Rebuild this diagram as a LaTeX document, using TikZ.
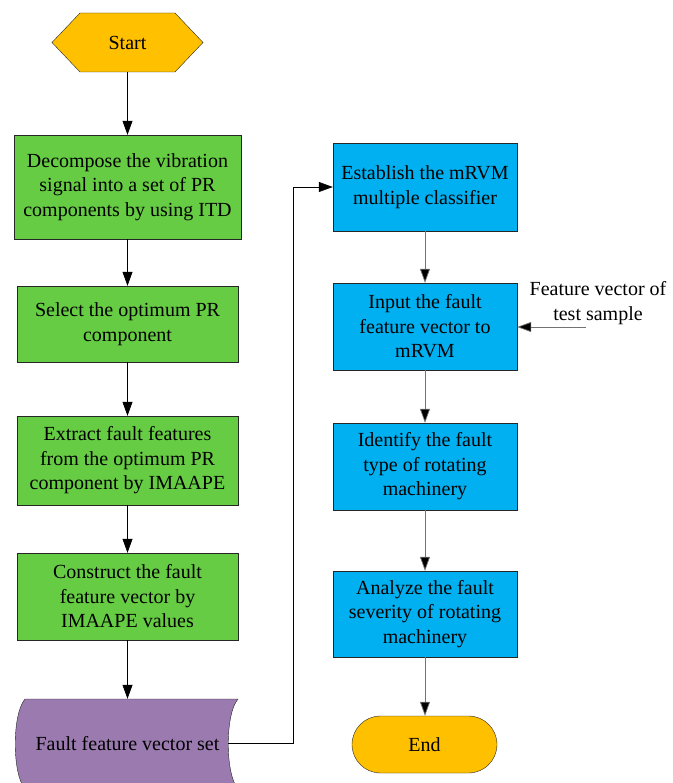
\documentclass[tikz,border=0pt]{standalone}
\usepackage{fontspec}
\setmainfont{Liberation Serif}
\usetikzlibrary{arrows.meta,positioning}
\definecolor{boxgreen}{RGB}{102,204,68}
\definecolor{boxblue}{RGB}{0,176,240}
\definecolor{boxorange}{RGB}{255,192,0}
\definecolor{boxpurple}{RGB}{155,122,176}
\tikzset{
  txt/.style={font=\fontsize{20}{24.5}\selectfont, align=center, text=black},
  gbox/.style={txt, draw=black!85, fill=boxgreen, minimum width=221pt, inner sep=0pt},
  bbox/.style={txt, draw=black!85, fill=boxblue, minimum width=184pt, inner sep=0pt},
  conn/.style={draw=black, line width=0.7pt, -{Triangle[length=14pt,width=10pt,fill=black]}},
  gconn/.style={conn, draw=black!55},
}
\begin{document}
\begin{tikzpicture}[x=1pt,y=-1pt]
\useasboundingbox (0,0) rectangle (672,783);
\clip (0,0) rectangle (672,783);
% start hexagon
\draw[draw=black!85, fill=boxorange] (52,42.5) -- (80,13) -- (175,13) -- (203,42.5) -- (175,72) -- (80,72) -- cycle;
\node[txt, minimum height=59pt, inner sep=0pt] (start) at (127.5,42.5) {Start};
% left column
\node[gbox, minimum width=227pt, minimum height=104pt] (b1) at (127.5,187) {Decompose the vibration\\signal into a set of PR\\components by using ITD};
\node[gbox, minimum height=76pt] (b2) at (127.5,324) {Select the optimum PR\\component};
\node[gbox, minimum height=89pt] (b3) at (127.5,460.5) {Extract fault features\\from the optimum PR\\component by IMAAPE};
\node[gbox, minimum height=87pt] (b4) at (127.5,596.5) {Construct the fault\\feature vector by\\IMAAPE values};
% purple stored data shape
\draw[draw=black!85, fill=boxpurple] (25,699) -- (238,699)
  .. controls (225,714) and (225,774) .. (238,789) -- (25,789)
  .. controls (12,774) and (12,714) .. (25,699) -- cycle;
\node[txt, minimum height=90pt, minimum width=213pt, inner sep=0pt] (fv) at (127.5,744) {Fault feature vector set};
\coordinate (fvout) at (228,743);
% right column
\node[bbox, minimum height=88pt] (r1) at (425,187) {Establish the mRVM\\multiple classifier};
\node[bbox, minimum height=87pt] (r2) at (425,326.5) {Input the fault\\feature vector to\\mRVM};
\node[bbox, minimum height=87pt] (r3) at (425,466.5) {Identify the fault\\type of rotating\\machinery};
\node[bbox, minimum height=86pt] (r4) at (425,614) {Analyze the fault\\severity of rotating\\machinery};
\node[txt, draw=black!85, fill=boxorange, minimum width=145pt, minimum height=57pt, rounded corners=28.5pt, inner sep=0pt] (end) at (424.5,744.5) {End};
% external input
\node[txt, inner sep=0pt] (ext) at (598,303) {Feature vector of\\test sample};
\coordinate (extin) at (586,327);
% connectors
\draw[conn] (start) -- (b1);
\draw[conn] (b1) -- (b2);
\draw[conn] (b2) -- (b3);
\draw[conn] (b3) -- (b4);
\draw[conn] (b4) -- (fv.north);
\draw[conn] (fvout) -| (293,187) -- (r1.west);
\draw[gconn] (r1) -- (r2);
\draw[gconn] (r2) -- (r3);
\draw[gconn] (r3) -- (r4);
\draw[gconn] (r4.south) -- (r4.south |- end.north);
\draw[gconn] (extin) -- (r2.east |- extin);
\end{tikzpicture}
\end{document}
